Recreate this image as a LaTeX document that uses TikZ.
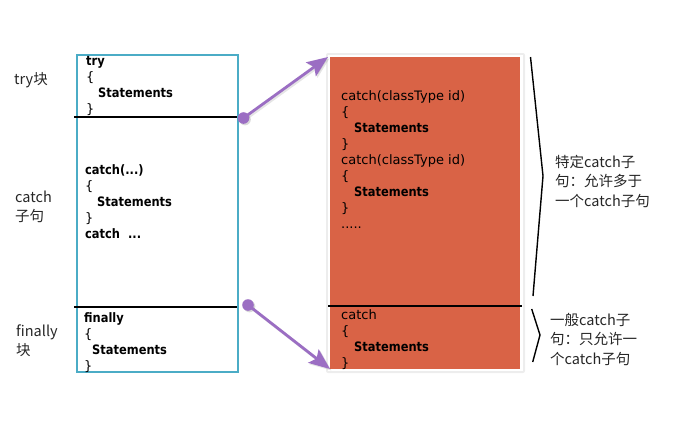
\documentclass[tikz,border=0pt]{standalone}
\usepackage{fontspec}
\usetikzlibrary{arrows.meta}
\setmainfont{DejaVu Sans}
\newfontfamily\codefont[BoldFeatures={FakeStretch=0.88}]{DejaVu Sans}
\newfontfamily\cjkfont{Noto Sans CJK SC}
\definecolor{boxblue}{HTML}{4BACC6}
\definecolor{catchred}{HTML}{D96346}
\definecolor{linkpurple}{HTML}{9B6EC3}
\newcommand{\firstline}[1]{\rule{0pt}{#1}}
\tikzset{
  codeblk/.style={anchor=north west, inner sep=0pt, align=left,
    font=\codefont\fontsize{13}{16}\selectfont},
  sidelabel/.style={anchor=north west, inner sep=0pt, align=left,
    font=\cjkfont\fontsize{14.5}{19.5}\selectfont, text=black!85},
  divider/.style={line width=1.6pt, black},
  link/.style={line width=2.8pt, linkpurple,
    -{Stealth[length=21pt,width=17pt,inset=4pt]}},
  linkshadow/.style={line width=2.8pt, black, opacity=0.10,
    -{Stealth[length=21pt,width=17pt,inset=4pt]}},
  bracket/.style={line width=1.4pt, black, line join=round}
}
\begin{document}
\begin{tikzpicture}[x=1pt,y=-1pt]
  \useasboundingbox (0,0) rectangle (677,424);

  % outer try/catch/finally frame
  \node[draw=boxblue, line width=1.6pt, minimum width=161pt, minimum height=317pt,
        inner sep=0pt, anchor=north west] (outer) at (76,54) {};
  \coordinate (sepA-l) at (74,117);
  \coordinate (sepA-r) at (237,117);
  \coordinate (sepB-l) at (74,307);
  \coordinate (sepB-r) at (237,307);
  \draw[divider] (sepA-l) -- (sepA-r);
  \draw[divider] (sepB-l) -- (sepB-r);

  % expanded catch clauses
  \fill[black, opacity=0.07, rounded corners=2pt] (326,53) rectangle (525,373);
  \node[fill=white, minimum width=195pt, minimum height=316pt, inner sep=0pt,
        anchor=north west] (frame) at (327.5,55) {};
  \node[fill=catchred, minimum width=190pt, minimum height=312pt, inner sep=0pt,
        anchor=north west] (catches) at (330,57) {};
  \coordinate (sepC-l) at (328,306);
  \coordinate (sepC-r) at (522,306);
  \draw[divider] (sepC-l) -- (sepC-r);

  % code in the outer frame
  \node[codeblk] (trycode) at (86,53)
    {\firstline{12pt}\textbf{try}\\\{\\\hspace*{12pt}\textbf{Statements}\\\}};
  \node[codeblk] (catchcode) at (85,162)
    {\firstline{12pt}\textbf{catch(...)}\\\{\\\hspace*{12pt}\textbf{Statements}\\\}\\\textbf{catch\ \ ...}};
  \node[codeblk] (finallycode) at (84,310)
    {\firstline{12pt}\textbf{finally}\\\{\\\hspace*{8pt}\textbf{Statements}\\\}};

  % code in the catch panel
  \node[codeblk] (specific) at (341,88)
    {\firstline{12pt}catch(classType id)\\\{\\\hspace*{13pt}\textbf{Statements}\\\}\\
     catch(classType id)\\\{\\\hspace*{13pt}\textbf{Statements}\\\}\\.....};
  \node[codeblk] (general) at (341,307)
    {\firstline{12pt}catch\\\{\\\hspace*{13pt}\textbf{Statements}\\\}};

  % labels on the left
  \node[sidelabel] (lbltry) at (14,69) {\firstline{15pt}try块};
  \node[sidelabel] (lblcatch) at (15,187) {\firstline{15pt}catch\\子句};
  \node[sidelabel] (lblfinally) at (16,321) {\firstline{15pt}finally\\块};

  % connectors from the outer frame to the catch panel
  \coordinate (dotA) at (243.5,118);
  \coordinate (dotB) at (248,305);
  \coordinate (tipA) at (328,57);
  \coordinate (tipB) at (330,369);
  \draw[linkshadow] ([shift={(1.5,1.5)}]dotA) -- ([shift={(1.5,1.5)}]tipA);
  \draw[linkshadow] ([shift={(1.5,1.5)}]dotB) -- ([shift={(1.5,1.5)}]tipB);
  \fill[black, opacity=0.15] ([shift={(1.5,1.5)}]dotA) circle (5.8);
  \fill[black, opacity=0.15] ([shift={(1.5,1.5)}]dotB) circle (5.8);
  \draw[link] (dotA) -- (tipA);
  \draw[link] (dotB) -- (tipB);
  \fill[linkpurple] (dotA) circle (5.8);
  \fill[linkpurple] (dotB) circle (5.8);

  % brackets and their notes
  \coordinate (brA-top) at (530.5,57);
  \coordinate (brA-tip) at (543,176);
  \coordinate (brA-bot) at (533,296);
  \coordinate (brB-top) at (531.7,309);
  \coordinate (brB-tip) at (540,335);
  \coordinate (brB-bot) at (532.7,362);
  \draw[bracket] (brA-top) -- (brA-tip) -- (brA-bot);
  \draw[bracket] (brB-top) -- (brB-tip) -- (brB-bot);
  \node[sidelabel] (noteA) at (555,152)
    {\firstline{15pt}特定catch子\\句：允许多于\\一个catch子句};
  \node[sidelabel] (noteB) at (550,310)
    {\firstline{15pt}一般catch子\\句：只允许一\\个catch子句};
\end{tikzpicture}
\end{document}
